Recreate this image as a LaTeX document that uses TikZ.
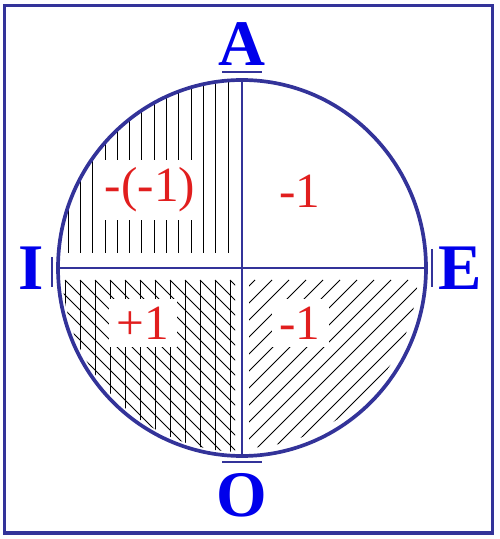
\documentclass[tikz,border=0pt]{standalone}
\usepackage{fontspec}
\setmainfont{Liberation Serif}
\usepackage{tikz}

\definecolor{ringblue}{RGB}{51,51,153}
\definecolor{letterblue}{RGB}{0,0,235}
\definecolor{numred}{RGB}{225,30,30}

\tikzset{
  corner/.style={letterblue, inner sep=0pt, anchor=center, font=\fontsize{37}{40}\selectfont\bfseries},
  value/.style={numred, fill=white, inner sep=0.16cm, anchor=center, font=\fontsize{28}{30}\selectfont},
  hatch/.style={black, line width=0.45pt},
  tick/.style={ringblue, line width=0.7pt}
}

\begin{document}
\begin{tikzpicture}
\useasboundingbox (0cm,0cm) rectangle (9.98cm,-10.78cm);
\draw[ringblue, line width=1.9pt] (0.09cm,-0.11cm) rectangle (9.85cm,-10.66cm);
% hatching, upper left
\begin{scope}
\clip (4.84cm,-5.36cm) ellipse (3.68cm and 3.76cm);
\clip (1.1cm,-5.06cm) rectangle (4.6cm,-1.5cm);
\foreach \k in {0,...,13}
  \draw[hatch] ({1.36+0.246*\k},-1.5) -- ++(0,-3.6);
\end{scope}
% hatching, lower left
\begin{scope}
\clip (4.84cm,-5.36cm) ellipse (3.6cm and 3.68cm);
\clip (1.1cm,-5.6cm) rectangle (4.7cm,-9.2cm);
\foreach \k in {0,...,11}
  \draw[hatch] ({1.3+0.3*\k},-5.6) -- ++(0,-3.6);
\foreach \k in {-12,...,12}
  \draw[hatch] ({1.3+0.3*\k},-5.6) -- ++(3.6,-3.6);
\end{scope}
% hatching, lower right
\begin{scope}
\clip (4.84cm,-5.36cm) ellipse (3.52cm and 3.6cm);
\clip (4.98cm,-5.6cm) rectangle (8.6cm,-9.2cm);
\foreach \k in {-12,...,12}
  \draw[hatch] ({4.9+0.34*\k},-9.2) -- ++(3.6,3.6);
\end{scope}
% axes and circle
\draw[ringblue, line width=0.6pt] (4.84cm,-1.6cm) -- (4.84cm,-9.12cm);
\draw[ringblue, line width=0.6pt] (1.16cm,-5.36cm) -- (8.52cm,-5.36cm);
\draw[ringblue, line width=2.1pt] (4.84cm,-5.36cm) ellipse (3.68cm and 3.76cm);
% bars beside the letters
\draw[tick] (4.44cm,-1.44cm) -- (5.24cm,-1.44cm);
\draw[tick] (4.44cm,-9.24cm) -- (5.24cm,-9.24cm);
\draw[tick] (1.04cm,-5.14cm) -- (1.04cm,-5.74cm);
\draw[tick] (8.64cm,-4.98cm) -- (8.64cm,-5.74cm);
% letters
\node[corner] (lA) at (4.84cm,-0.88cm) {A};
\node[corner] (lO) at (4.84cm,-9.9cm) {O};
\node[corner] (lI) at (0.62cm,-5.36cm) {I};
\node[corner] (lE) at (9.2cm,-5.36cm) {E};
% values
\node[value] (vUL) at (3.0cm,-3.8cm) {-(-1)};
\node[value] (vUR) at (6.0cm,-3.82cm) {-1};
\node[value] (vLL) at (2.86cm,-6.46cm) {+1};
\node[value] (vLR) at (6.0cm,-6.46cm) {-1};
\end{tikzpicture}
\end{document}
